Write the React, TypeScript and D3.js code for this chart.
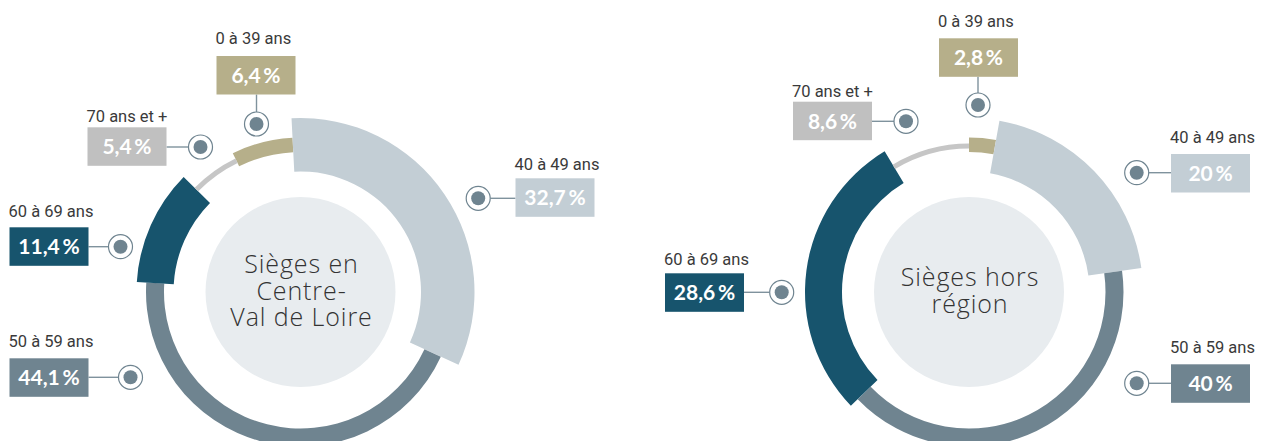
import React from "react";
import * as d3 from "d3";

// ---- data ----
const categories = ["0 à 39 ans", "40 à 49 ans", "50 à 59 ans", "60 à 69 ans", "70 ans et +"];
const valuesCentre = [6.4, 32.7, 44.1, 11.4, 5.4];
const valuesHors = [2.8, 20, 40, 28.6, 8.6];
const titleCentre = ["Sièges en", "Centre-", "Val de Loire"];
const titleHors = ["Sièges hors", "région"];

// ---- styles ----
const colors: Record<string, string> = {
  "0 à 39 ans": "#b6af8a",
  "40 à 49 ans": "#c3ced5",
  "50 à 59 ans": "#6f8490",
  "60 à 69 ans": "#17546d",
  "70 ans et +": "#c0c0c0",
};
const ringColors: Record<string, string> = { ...colors, "70 ans et +": "#c6c6c6" };
const radii: Record<string, [number, number]> = {
  "0 à 39 ans": [140, 154.5],
  "40 à 49 ans": [120.5, 174],
  "50 à 59 ans": [136.5, 154.5],
  "60 à 69 ans": [127, 164],
  "70 ans et +": [143.5, 148.5],
};

// label layout, relative to donut centre: marker, box top-left, label baseline
type Lay = { m: [number, number]; b: [number, number]; ly: number };
const layoutCentre: Lay[] = [
  { m: [-44, -168], b: [-84, -236], ly: -248 },
  { m: [177.7, -93.7], b: [215, -113.7], ly: -122 },
  { m: [-170, 85.3], b: [-291, 66.3], ly: 55.3 },
  { m: [-180, -45.3], b: [-291, -64.7], ly: -75.3 },
  { m: [-100, -145], b: [-213, -164.7], ly: -170.3 },
];
const layoutHors: Lay[] = [
  { m: [9, -187], b: [-30, -253.7], ly: -265.3 },
  { m: [167.7, -119.3], b: [202, -138], ly: -148.7 },
  { m: [167.7, 91.3], b: [202, 72.3], ly: 61.3 },
  { m: [-187.3, 0.3], b: [-304, -18.7], ly: -27 },
  { m: [-63, -170.7], b: [-176, -190.3], ly: -194.7 },
];

const BOX_W = 79;
const BOX_H = 38.5;
const MARK_R = 12;
const LINE_H = 26.5;

const fmt = (v: number) => String(v).replace(".", ",") + "\u2009%";

function Donut({ cx, cy, values, title, layout, start }: { cx: number; cy: number; values: number[]; title: string[]; layout: Lay[]; start: number }) {
  const data = categories.map((c, i) => ({ c, v: values[i] }));
  const pie = d3
    .pie<{ c: string; v: number }>()
    .sort(null)
    .value((d) => d.v)
    .startAngle(start)
    .endAngle(start + 2 * Math.PI);
  const arcs = pie(data);
  const n = title.length;
  return (
    <g>
      <g transform={`translate(${cx},${cy})`}>
        {arcs.map((a) => {
          const [ri, ro] = radii[a.data.c];
          const path = d3.arc<any>().innerRadius(ri).outerRadius(ro)(a) as string;
          return <path key={a.data.c} d={path} fill={ringColors[a.data.c]} />;
        })}
        <circle r={95} fill="#e8ecef" />
        <text
          textAnchor="middle"
          fontFamily="'Open Sans', Inter, sans-serif"
          fontWeight={300}
          fontSize={25}
          letterSpacing={0.9}
          fill="#333"
        >
          {title.map((t, i) => (
            <tspan key={i} x={1} y={(i - (n - 1) / 2) * LINE_H + 7.5}>
              {t}
            </tspan>
          ))}
        </text>
      </g>
      {data.map((d, i) => {
        const L = layout[i];
        const mx = cx + L.m[0];
        const my = cy + L.m[1];
        const bx = cx + L.b[0];
        const by = cy + L.b[1];
        let line;
        if (by + BOX_H < my - MARK_R) {
          line = <line x1={mx} y1={by + BOX_H} x2={mx} y2={my - MARK_R} />;
        } else if (bx > mx) {
          line = <line x1={mx + MARK_R} y1={my} x2={bx} y2={my} />;
        } else {
          line = <line x1={bx + BOX_W} y1={my} x2={mx - MARK_R} y2={my} />;
        }
        return (
          <g key={d.c}>
            <g stroke="#7f929d" strokeWidth={1.4}>{line}</g>
            <circle cx={mx} cy={my} r={MARK_R} fill="#fff" stroke="#6f8490" strokeWidth={1.2} />
            <circle cx={mx} cy={my} r={7} fill="#6f8490" />
            <text x={bx - 1} y={cy + L.ly} fontFamily="Roboto, sans-serif" fontSize={16.5} fill="#3a3a3a">
              {d.c}
            </text>
            <rect x={bx} y={by} width={BOX_W} height={BOX_H} fill={colors[d.c]} />
            <text
              x={bx + BOX_W / 2}
              y={by + BOX_H / 2}
              dy="0.36em"
              textAnchor="middle"
              fontFamily="Lato, sans-serif"
              fontWeight={700}
              fontSize={21}
              fill="#fff"
            >
              {fmt(d.v)}
            </text>
          </g>
        );
      })}
    </g>
  );
}

export default function App() {
  const deg = Math.PI / 180;
  return (
    <svg width={1268} height={441} style={{ position: "absolute", left: 0, top: 0, background: "#fff" }}>
      <Donut cx={300.5} cy={292} values={valuesCentre} title={titleCentre} layout={layoutCentre} start={-26 * deg} />
      <Donut cx={969} cy={292} values={valuesHors} title={titleHors} layout={layoutHors} start={0} />
    </svg>
  );
}
